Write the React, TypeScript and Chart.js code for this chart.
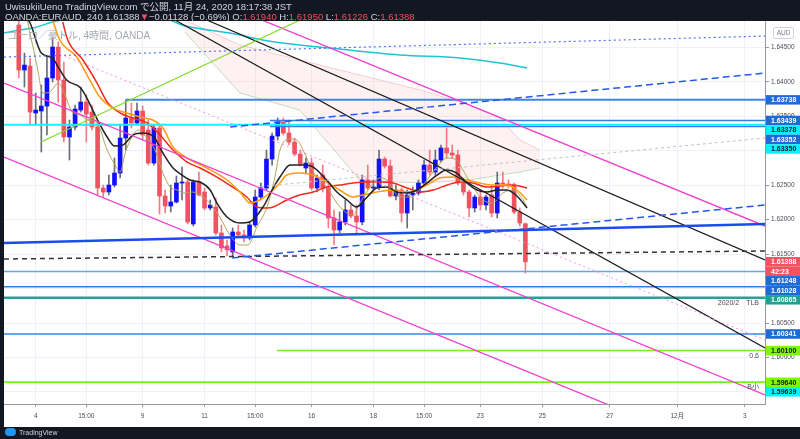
import React, { useEffect, useRef } from 'react';
import { Chart, registerables } from 'chart.js';

Chart.register(...registerables);

const FONT = '"Liberation Sans", "Noto Sans CJK JP", Arial, sans-serif';

// visible range (candle index / price)
const xMin = -5.63;
const xMax = 129.57;
const yMin = 1.59325;
const yMax = 1.64882;

const tickIdx = [0, 9, 19, 30, 39, 49, 60, 69, 79, 90, 102, 114, 126];
const tickLabels = ['4', '15:00', '9', '11', '15:00', '16', '18', '15:00', '23', '25', '27', '12月', '3'];
const priceTicks = [1.595, 1.6, 1.605, 1.61, 1.615, 1.62, 1.625, 1.63, 1.635, 1.64, 1.645];

// 4H candles, first one at index -3
const firstCandle = -3;
const opens = [1.64824, 1.64171, 1.64229, 1.63547, 1.63576, 1.63648, 1.64055, 1.64504, 1.64026, 1.63199, 1.63344, 1.63590, 1.63706, 1.63561, 1.63344, 1.62459, 1.62401, 1.62502, 1.62676, 1.63184, 1.63474, 1.63402, 1.63576, 1.63300, 1.62821, 1.63329, 1.62343, 1.62198, 1.62256, 1.62531, 1.62546, 1.61937, 1.62546, 1.62401, 1.62169, 1.62183, 1.61806, 1.61618, 1.61531, 1.61821, 1.61777, 1.61734, 1.61922, 1.62328, 1.62459, 1.62879, 1.63213, 1.63416, 1.63257, 1.63126, 1.62952, 1.62749, 1.62821, 1.62459, 1.62647, 1.62459, 1.62024, 1.61850, 1.61966, 1.62140, 1.62053, 1.61966, 1.62575, 1.62459, 1.62473, 1.62879, 1.62778, 1.62343, 1.62430, 1.62096, 1.62357, 1.62386, 1.62531, 1.62792, 1.62691, 1.62865, 1.63039, 1.62967, 1.62938, 1.62531, 1.62401, 1.62169, 1.62328, 1.62212, 1.62357, 1.62096, 1.62531, 1.62517, 1.62502, 1.62111, 1.61940];
const highs = [1.64896, 1.64417, 1.64345, 1.63837, 1.63953, 1.64359, 1.64635, 1.64577, 1.64287, 1.63445, 1.63663, 1.63924, 1.63808, 1.63663, 1.63416, 1.62502, 1.62647, 1.62894, 1.63373, 1.63735, 1.63692, 1.63692, 1.63648, 1.63445, 1.63373, 1.63373, 1.62430, 1.62502, 1.62633, 1.62763, 1.62575, 1.62575, 1.62691, 1.62459, 1.62285, 1.62314, 1.61922, 1.61705, 1.61879, 1.61922, 1.61850, 1.61966, 1.62430, 1.62531, 1.63010, 1.63257, 1.63474, 1.63474, 1.63445, 1.63184, 1.63010, 1.62894, 1.62894, 1.62647, 1.62792, 1.62531, 1.62140, 1.62111, 1.62285, 1.62212, 1.62212, 1.62647, 1.62792, 1.62575, 1.63010, 1.62908, 1.62865, 1.62502, 1.62459, 1.62430, 1.62473, 1.62575, 1.62865, 1.63010, 1.63010, 1.63083, 1.63329, 1.63083, 1.63010, 1.62604, 1.62430, 1.62357, 1.62430, 1.62357, 1.62502, 1.62691, 1.62691, 1.62575, 1.62531, 1.62169, 1.61950];
const lows = [1.64055, 1.63924, 1.63373, 1.63373, 1.62981, 1.63228, 1.63997, 1.63706, 1.63126, 1.62865, 1.63300, 1.63561, 1.63126, 1.63300, 1.62357, 1.62328, 1.62357, 1.62473, 1.62604, 1.63010, 1.63329, 1.63373, 1.63155, 1.62792, 1.62792, 1.62082, 1.62096, 1.62111, 1.62241, 1.62285, 1.61937, 1.61907, 1.62343, 1.62140, 1.62140, 1.61777, 1.61531, 1.61472, 1.61472, 1.61748, 1.61676, 1.61705, 1.61893, 1.62299, 1.62430, 1.62792, 1.63155, 1.63228, 1.63083, 1.62923, 1.62778, 1.62662, 1.62430, 1.62401, 1.62401, 1.61879, 1.61632, 1.61806, 1.61922, 1.62024, 1.61777, 1.61922, 1.62430, 1.62415, 1.62430, 1.62749, 1.62328, 1.62285, 1.61966, 1.61879, 1.62140, 1.62357, 1.62502, 1.62647, 1.62647, 1.62836, 1.62894, 1.62894, 1.62502, 1.62357, 1.62038, 1.62111, 1.62140, 1.62140, 1.62038, 1.62024, 1.62459, 1.62459, 1.62082, 1.61907, 1.61226];
const closes = [1.64171, 1.64243, 1.63561, 1.63590, 1.63648, 1.64055, 1.64504, 1.64026, 1.63199, 1.63344, 1.63605, 1.63706, 1.63532, 1.63344, 1.62459, 1.62401, 1.62502, 1.62676, 1.63184, 1.63474, 1.63402, 1.63576, 1.63228, 1.62821, 1.63329, 1.62343, 1.62198, 1.62256, 1.62531, 1.62546, 1.61966, 1.62546, 1.62357, 1.62169, 1.62212, 1.61806, 1.61589, 1.61560, 1.61821, 1.61777, 1.61734, 1.61922, 1.62328, 1.62459, 1.62879, 1.63213, 1.63416, 1.63257, 1.63126, 1.62952, 1.62807, 1.62821, 1.62459, 1.62604, 1.62459, 1.62024, 1.61850, 1.61966, 1.62140, 1.62053, 1.61966, 1.62575, 1.62459, 1.62473, 1.62879, 1.62778, 1.62343, 1.62430, 1.62096, 1.62357, 1.62386, 1.62531, 1.62792, 1.62691, 1.62865, 1.63039, 1.62967, 1.62938, 1.62531, 1.62401, 1.62169, 1.62328, 1.62212, 1.62328, 1.62096, 1.62531, 1.62517, 1.62502, 1.62111, 1.61951, 1.61388];

// moving averages [candle index, price]
const maFast = [[-1.5, 1.64896], [0.2, 1.64243], [1.3, 1.63837], [2.5, 1.63851], [4, 1.63982], [5.2, 1.63808], [6.5, 1.63561], [7.9, 1.63518], [9.3, 1.63445], [10.9, 1.63402], [12.7, 1.63010], [14.1, 1.62792], [15, 1.62691], [15.9, 1.62967], [17.1, 1.63199], [18.2, 1.63300], [19.8, 1.63184], [21.2, 1.63010], [22.6, 1.62676], [23.9, 1.62473], [25.1, 1.62430], [26.5, 1.62386], [27.8, 1.62401], [29.2, 1.62357], [30.9, 1.62241], [32.7, 1.62038], [34.5, 1.61777], [36.3, 1.61632], [37.7, 1.61632], [39.3, 1.61893], [41.1, 1.62183], [42.5, 1.62618], [43.4, 1.63010], [45.2, 1.63170], [46.4, 1.63155], [47.5, 1.63010], [49.3, 1.62691], [51.7, 1.62473], [53.5, 1.62241], [55.3, 1.62096], [56.4, 1.62067], [57.6, 1.62241], [59.4, 1.62473], [61.2, 1.62604], [62.4, 1.62575], [63.5, 1.62430], [64.7, 1.62328], [66.5, 1.62328], [67.7, 1.62386], [69.5, 1.62575], [71.3, 1.62763], [73.1, 1.62894], [74.8, 1.62865], [75.9, 1.62720], [77.7, 1.62473], [79.5, 1.62285], [81.2, 1.62241], [83, 1.62386], [84.8, 1.62430], [86.6, 1.62285], [87.3, 1.62183]];
const maBlack = [[-2, 1.64969], [-1, 1.64853], [1, 1.64417], [3, 1.64345], [4, 1.64214], [5.5, 1.64026], [8, 1.63910], [9, 1.63779], [11, 1.63445], [12.7, 1.63199], [14, 1.63068], [15.5, 1.63083], [17.3, 1.63228], [19, 1.63257], [21, 1.63199], [22.6, 1.62967], [24.4, 1.62749], [26, 1.62647], [27.4, 1.62575], [29.2, 1.62546], [31, 1.62430], [32.2, 1.62241], [34, 1.62038], [36.3, 1.61951], [38, 1.61966], [40.4, 1.62183], [42, 1.62430], [43.4, 1.62618], [45.2, 1.62792], [47.5, 1.62792], [49.3, 1.62763], [51.7, 1.62575], [53.5, 1.62401], [55.3, 1.62285], [57, 1.62183], [58.9, 1.62328], [60.6, 1.62459], [62.4, 1.62473], [64.2, 1.62401], [66, 1.62386], [67.7, 1.62430], [69.5, 1.62531], [71.3, 1.62647], [73, 1.62720], [74.8, 1.62676], [76.6, 1.62531], [78.4, 1.62430], [80.2, 1.62401], [82, 1.62430], [83.7, 1.62430], [85.5, 1.62343], [87.3, 1.62169]];
const maOrange = [[3, 1.64896], [4.3, 1.64606], [7.3, 1.64359], [9.6, 1.64026], [11.4, 1.63779], [13.7, 1.63619], [16.2, 1.63547], [18.5, 1.63489], [20.8, 1.63445], [22.6, 1.63329], [24.4, 1.63054], [26.9, 1.62894], [30.4, 1.62749], [34, 1.62575], [36.3, 1.62401], [38.1, 1.62241], [39.8, 1.62285], [41.6, 1.62386], [43.4, 1.62531], [44.6, 1.62647], [46.9, 1.62676], [49.3, 1.62647], [51.7, 1.62546], [54, 1.62430], [56.4, 1.62328], [58.1, 1.62357], [60.6, 1.62401], [63.5, 1.62430], [66, 1.62401], [67.7, 1.62430], [69.5, 1.62502], [71.8, 1.62604], [74.1, 1.62618], [76.6, 1.62575], [78.9, 1.62531], [81.2, 1.62502], [83.7, 1.62502], [85.5, 1.62430], [87.3, 1.62285]];
const maRed = [[4.8, 1.64867], [5.7, 1.64606], [8.4, 1.64316], [10.9, 1.63982], [12.7, 1.63706], [15, 1.63547], [17.3, 1.63474], [19.8, 1.63402], [22.1, 1.63228], [24.4, 1.63010], [26.9, 1.62836], [29.2, 1.62749], [32.2, 1.62618], [35, 1.62473], [37.5, 1.62328], [39.3, 1.62183], [41.1, 1.62169], [42.2, 1.62183], [44.6, 1.62285], [46.9, 1.62357], [49.3, 1.62401], [51.7, 1.62473], [54, 1.62502], [56.4, 1.62531], [58.9, 1.62546], [61.2, 1.62546], [63.5, 1.62531], [66, 1.62459], [68.3, 1.62401], [70.6, 1.62430], [73.1, 1.62502], [75.4, 1.62546], [77.7, 1.62531], [80.2, 1.62473], [82.5, 1.62488], [84.8, 1.62502], [87.3, 1.62459]];
const maLong = [[-5.6, 1.64707], [-2.8, 1.64751], [-0.5, 1.64780], [3, 1.64867], [8, 1.64954], [16, 1.64998], [22, 1.64954], [26, 1.64824], [34.5, 1.64707], [42.5, 1.64577], [52.3, 1.64490], [64.7, 1.64388], [75.4, 1.64345], [82.5, 1.64272], [87.3, 1.64200]];

// cloud
const cloudIdx = [26.5, 36.3, 46.9, 57.6, 68.3, 77.1, 82.5, 86.0, 89.6];
const cloudTop = [1.64896, 1.64533, 1.64316, 1.64098, 1.63881, 1.63663, 1.63474, 1.63155, 1.63010];
const cloudBottom = [1.64722, 1.63837, 1.63590, 1.62575, 1.62531, 1.62575, 1.62647, 1.62691, 1.62749];

// drawn trend lines [candle index, price]
const magentaUpper = [[40.2, 1.64896], [129.57, 1.61907]];
const magentaMid = [[-5.63, 1.63982], [129.57, 1.59456]];
const magentaLow = [[-5.63, 1.62908], [129.57, 1.58382]];
const pinkDotted = [[3.43, 1.64432], [129.57, 1.60254]];
const blackUpper = [[30.42, 1.64896], [129.57, 1.61414]];
const blackLower = [[24.74, 1.64896], [129.57, 1.60137]];
const greenTrend = [[0.94, 1.63126], [46.94, 1.64896]];
const greyDashed = [[38.95, 1.62473], [129.57, 1.63184]];
const blueThick = [[-5.63, 1.61661], [129.57, 1.61937]];
const blackDashed = [[-5.63, 1.61429], [129.57, 1.61545]];
const blueDotted = [[-5.63, 1.64359], [129.57, 1.64664]];
const blueDashedUpper = [[34.55, 1.63344], [129.57, 1.64127]];
const blueDashedLower = [[34.9, 1.61443], [129.57, 1.62212]];

// horizontal levels (first listed is drawn on top)
const levelPrices = [1.63738, 1.63439, 1.63378, 1.63352, 1.61248, 1.61028, 1.60865, 1.60341, 1.60100, 1.59640, 1.59639];
const levelStart = [16.0, 41.6, -5.63, 41.6, -5.63, -5.63, -5.63, -5.63, 42.87, -5.63, -5.63];
const levelColors = ['#3f86e3', '#3b7ddd', '#19f0ff', '#3b7ddd', '#6aa5e8', '#2f80e0', '#23a393', '#3a86e0', '#7ef01c', '#7ef01c', '#19f0ff'];
const levelWidths = [2, 1.5, 2, 1.5, 1.5, 1.5, 2.5, 1.5, 1.5, 1.5, 1.5];

// right axis labels
const priceLabelValues = [1.63738, 1.63439, 1.63378, 1.63352, 1.63350, 1.61388, 1.61388, 1.61248, 1.61028, 1.60865, 1.60341, 1.60100, 1.59640, 1.59639];
const priceLabelTexts = ['1.63738', '1.63439', '1.63378', '1.63352', '1.63350', '1.61388', '42:23', '1.61248', '1.61028', '1.60865', '1.60341', '1.60100', '1.59640', '1.59639'];
const BLUE = '#1e6bd6', CYAN = '#00f3ff', RED = '#f0525f', TEAL = '#22a08f', LIME = '#7cfc00';
const priceLabelBg = [BLUE, BLUE, CYAN, BLUE, CYAN, RED, RED, BLUE, BLUE, TEAL, BLUE, LIME, LIME, CYAN];
const priceLabelFg = ['#fff', '#fff', '#131722', '#fff', '#131722', '#fff', '#fff', '#fff', '#fff', '#fff', '#fff', '#131722', '#131722', '#131722'];

// notes on lines
const noteValues = [1.60865, 1.60100, 1.59640];
const noteTexts = ['2020/2　TLB', '0.6', 'B小'];

const pts = (arr: number[][]) => arr.map(([x, y]) => ({ x, y }));

export default function App() {
  const ref = useRef<HTMLCanvasElement>(null);

  useEffect(() => {
    const canvas = ref.current!;
    const idx = opens.map((_, k) => firstCandle + k);
    const isUp = (k: number) => closes[k] >= opens[k];

    const line = (data: any, color: string, width: number, order: number, extra: any = {}) => ({
      type: 'line',
      data,
      borderColor: color,
      borderWidth: width,
      pointRadius: 0,
      fill: false,
      order,
      ...extra,
    });

    const levels = levelPrices.map((p, k) =>
      line([{ x: levelStart[k], y: p }, { x: xMax, y: p }], levelColors[k], levelWidths[k], 3)
    );

    const ma = { cubicInterpolationMode: 'monotone' };

    const datasets: any[] = [
      line(cloudIdx.map((x, k) => ({ x, y: cloudTop[k] })), 'rgba(247,150,160,0.45)', 1, 30, {
        fill: '+1',
        backgroundColor: 'rgba(242,80,90,0.08)',
      }),
      line(cloudIdx.map((x, k) => ({ x, y: cloudBottom[k] })), 'rgba(120,190,120,0.45)', 1, 31),
      line(pts(maLong), '#22c3d6', 1.5, 20, ma),
      {
        type: 'bar',
        data: idx.map((x, k) => ({ x, y: [lows[k], highs[k]] })),
        backgroundColor: (c: any) => (isUp(c.dataIndex) ? '#6a6d78' : '#f47a84'),
        barThickness: 1,
        grouped: false,
        order: 11,
      },
      {
        type: 'bar',
        data: idx.map((x, k) => ({ x, y: [opens[k], closes[k]] })),
        backgroundColor: (c: any) => (isUp(c.dataIndex) ? '#1010ff' : '#f0525f'),
        barThickness: 4,
        minBarLength: 1,
        grouped: false,
        order: 10,
      },
      line(pts(maFast), '#b0a55a', 1, 8, ma),
      line(pts(maRed), '#f32a1e', 1.5, 7, ma),
      line(pts(maOrange), '#ff9a10', 1.5, 6, ma),
      line(pts(maBlack), '#222222', 1.5, 5, ma),
      ...levels,
      line(pts(greyDashed), '#c4c4c4', 1, 2, { borderDash: [3, 3] }),
      line(pts(pinkDotted), '#f590e0', 1, 2, { borderDash: [2, 3] }),
      line(pts(blueDotted), '#4f74f5', 1.2, 2, { borderDash: [2, 3] }),
      line(pts(blueDashedUpper), '#2458f0', 1.5, 2, { borderDash: [7, 4] }),
      line(pts(blueDashedLower), '#2458f0', 1.5, 2, { borderDash: [7, 4] }),
      line(pts(blackDashed), '#333333', 1.5, 2, { borderDash: [5, 4] }),
      line(pts(blueThick), '#1a4cf0', 2.5, 2),
      line(pts(greenTrend), '#86d830', 1.2, 2),
      line(pts(blackUpper), '#1a1a1a', 1.2, 2),
      line(pts(blackLower), '#1a1a1a', 1.2, 2),
      line(pts(magentaUpper), '#f23fce', 1.3, 2),
      line(pts(magentaMid), '#f23fce', 1.3, 2),
      line(pts(magentaLow), '#f23fce', 1.3, 2),
    ];

    const bgPlugin = {
      id: 'bgPlugin',
      beforeDraw(chart: any) {
        const c = chart.ctx;
        const ca = chart.chartArea;
        c.save();
        c.fillStyle = '#131722';
        c.fillRect(0, 0, chart.width, chart.height);
        c.fillStyle = '#ffffff';
        c.fillRect(ca.left, ca.top, chart.width - ca.left, ca.bottom - ca.top + 23);
        c.restore();
      },
      afterDatasetsDraw(chart: any) {
        const c = chart.ctx;
        const ys = chart.scales.y;
        const ca = chart.chartArea;
        c.save();
        c.font = `7px ${FONT}`;
        c.fillStyle = '#4a4d57';
        c.textAlign = 'right';
        c.textBaseline = 'middle';
        noteValues.forEach((v, k) => {
          c.fillText(noteTexts[k], ca.right - 6, ys.getPixelForValue(v) + 5);
        });
        c.restore();
      },
      afterDraw(chart: any) {
        const c = chart.ctx;
        const ys = chart.scales.y;
        const ca = chart.chartArea;
        const items = priceLabelValues.map((v, k) => ({
          k,
          y: ys.getPixelForValue(v),
        }));
        items.sort((a, b) => a.y - b.y || a.k - b.k);
        const h = 9.5;
        let prev = -Infinity;
        for (const it of items) {
          it.y = Math.max(it.y, prev + h);
          prev = it.y;
        }
        c.save();
        c.textAlign = 'left';
        c.textBaseline = 'middle';
        c.font = `bold 7px ${FONT}`;
        for (const it of items) {
          c.fillStyle = priceLabelBg[it.k];
          c.fillRect(ca.right + 1, it.y - h / 2, chart.width - ca.right - 1, h);
          c.fillStyle = priceLabelFg[it.k];
          c.fillText(priceLabelTexts[it.k], ca.right + 6, it.y + 0.5);
        }
        c.restore();
      },
    };

    const chart = new Chart(canvas, {
      type: 'line',
      data: { datasets },
      options: {
        animation: false,
        responsive: false,
        devicePixelRatio: 1,
        events: [],
        layout: { padding: { left: 4, top: 21, right: 0, bottom: 12 } },
        plugins: { legend: { display: false }, tooltip: { enabled: false } },
        scales: {
          x: {
            type: 'linear',
            min: xMin,
            max: xMax,
            offset: false,
            grid: { color: '#eef1f7', tickLength: 3, tickColor: '#9598a1', offset: false },
            border: { color: '#9598a1' },
            ticks: {
              autoSkip: false,
              maxRotation: 0,
              padding: 5,
              color: '#4a4d57',
              font: { size: 6.5, family: FONT },
              callback: (v: any) => {
                const k = tickIdx.indexOf(Number(v));
                return k >= 0 ? tickLabels[k] : '';
              },
            },
            afterBuildTicks: (s: any) => {
              s.ticks = tickIdx.map((value) => ({ value }));
            },
            afterFit: (s: any) => {
              s.height = 23;
            },
          },
          y: {
            type: 'linear',
            position: 'right',
            min: yMin,
            max: yMax,
            grid: { color: '#eef1f7', tickLength: 4, tickColor: '#9598a1' },
            border: { color: '#9598a1' },
            ticks: {
              padding: 2,
              color: '#4a4d57',
              font: { size: 6.5, family: FONT },
              callback: (v: any) => Number(v).toFixed(5),
            },
            afterBuildTicks: (s: any) => {
              s.ticks = priceTicks.map((value) => ({ value }));
            },
            afterFit: (s: any) => {
              s.width = 35;
            },
          },
        },
      },
      plugins: [bgPlugin],
    } as any);
    return () => chart.destroy();
  }, []);

  const red = { color: '#f0525f' };
  return (
    <div style={{ position: 'absolute', left: 0, top: 0, width: 800, height: 439, background: '#131722', overflow: 'hidden' }}>
      <canvas ref={ref} width={800} height={439} style={{ position: 'absolute', left: 0, top: 0, width: 800, height: 439 }} />
      <div style={{ position: 'absolute', left: 5, top: 2, color: '#d1d4dc', font: `9.5px ${FONT}`, lineHeight: '10px', whiteSpace: 'nowrap' }}>
        <div>UwisukiiUeno TradingView.com で公開, 11月 24, 2020 18:17:38 JST</div>
        <div>
          OANDA:EURAUD, 240 1.61388<span style={red}>▼</span>−0.01128 (−0.69%) O:<span style={red}>1.61940</span> H:
          <span style={red}>1.61950</span> L:<span style={red}>1.61226</span> C:<span style={red}>1.61388</span>
        </div>
      </div>
      <div style={{ position: 'absolute', left: 8, top: 27, color: '#a6a9b2', font: `10px ${FONT}`, whiteSpace: 'nowrap' }}>
        ユーロ／豪ドル, 4時間, OANDA
      </div>
      <div style={{ position: 'absolute', left: 773, top: 27, width: 19, height: 10, border: '1px solid #d1d4dc', borderRadius: 2, color: '#787b86', font: `6.5px ${FONT}`, lineHeight: '10px', textAlign: 'center' }}>
        AUD
      </div>
      <div style={{ position: 'absolute', left: 5, top: 428, display: 'flex', alignItems: 'center', color: '#d1d4dc', font: `7px ${FONT}`, whiteSpace: 'nowrap' }}>
        <span style={{ display: 'inline-block', width: 11, height: 8, borderRadius: 4, background: '#2196f3', marginRight: 3 }} />
        TradingView
      </div>
    </div>
  );
}
